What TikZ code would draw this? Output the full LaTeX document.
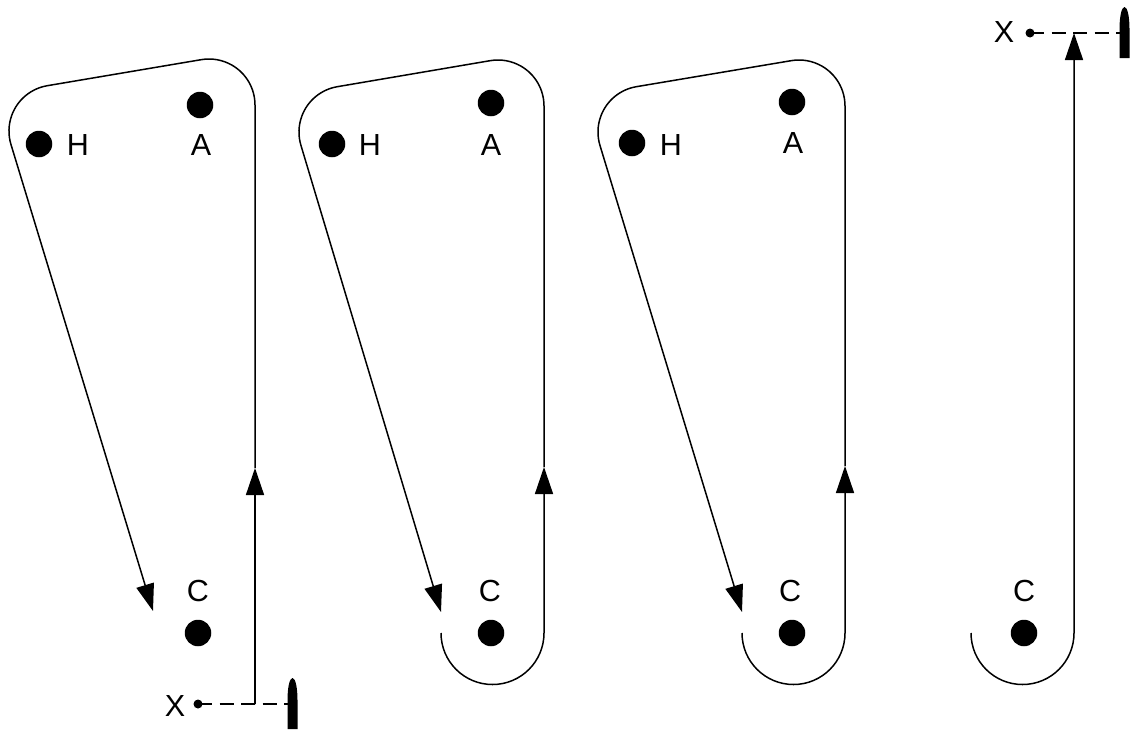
\documentclass[tikz,border=0pt]{standalone}
\usepackage{fontspec}
\setmainfont{Liberation Sans}
\usetikzlibrary{arrows.meta}
\tikzset{
  bigdot/.style={circle,fill=black,draw=none,inner sep=0pt,minimum size=26.5pt},
  smalldot/.style={circle,fill=black,draw=none,inner sep=0pt,minimum size=9pt},
  lab/.style={inner sep=0pt,font=\fontsize{30.5}{30.5}\selectfont},
  flow/.style={line width=1.5pt,black},
  flowtip/.style={flow,-{Triangle[length=27pt,width=18pt]}},
  aim/.style={line width=1.4pt,dash pattern=on 14pt off 7.5pt},
  pics/bullet/.style={code={
    \fill[black] (-5,-25) -- (-5,4) .. controls (-5,16) and (-3,26) .. (0,26)
      .. controls (3,26) and (5,16) .. (5,4) -- (5,-25) -- cycle;
  }}
}
\begin{document}
\begin{tikzpicture}[x=1pt,y=1pt]
\useasboundingbox (0,0) rectangle (1131,-731);
% Panel 1
\node[bigdot] (h1) at (39,-144) {};
\node[bigdot] (a1) at (200,-105) {};
\node[bigdot] (c1) at (198,-633) {};
\node[lab] (hl1) at (78,-145) {H};
\node[lab] (al1) at (201,-145) {A};
\node[lab] (cl1) at (198,-591) {C};
\node[lab] (xl1) at (175,-706) {X};
\node[smalldot] (x1) at (198,-704) {};
\coordinate (j1) at (255,-704);
\coordinate (m1) at (255,-468);
\coordinate (r1) at (255,-105);
\coordinate (t1) at (153,-611);
\coordinate (b1) at (292.5,-704);
\pic at (b1) {bullet};
\draw[aim] (x1.center) -- (j1) -- (b1);
\draw[flowtip] (j1) -- (m1);
\draw[flowtip] (m1) -- (r1) arc[start angle=0,end angle=99.6,radius=46pt]
  -- (47.3,-85.7) arc[start angle=99.6,end angle=197,radius=46pt] -- (t1);
% Panel 2
\node[bigdot] (h2) at (332,-144) {};
\node[bigdot] (a2) at (491,-103) {};
\node[bigdot] (c2) at (491,-633) {};
\node[lab] (hl2) at (370,-145) {H};
\node[lab] (al2) at (491,-145) {A};
\node[lab] (cl2) at (490,-591) {C};
\coordinate (s2) at (441,-633);
\coordinate (m2) at (544,-467);
\coordinate (r2) at (544,-106);
\coordinate (t2) at (441,-612);
\draw[flowtip] (s2) arc[start angle=180,end angle=360,radius=51.5pt] -- (m2);
\draw[flowtip] (m2) -- (r2) arc[start angle=0,end angle=99.6,radius=46pt]
  -- (337.3,-86.7) arc[start angle=99.6,end angle=197,radius=46pt] -- (t2);
% Panel 3
\node[bigdot] (h3) at (632,-143) {};
\node[bigdot] (a3) at (792,-102) {};
\node[bigdot] (c3) at (792,-633) {};
\node[lab] (hl3) at (671,-145) {H};
\node[lab] (al3) at (793,-143) {A};
\node[lab] (cl3) at (790,-591) {C};
\coordinate (s3) at (742,-633);
\coordinate (m3) at (845,-466);
\coordinate (r3) at (845,-106);
\coordinate (t3) at (742,-612);
\draw[flowtip] (s3) arc[start angle=180,end angle=360,radius=51.5pt] -- (m3);
\draw[flowtip] (m3) -- (r3) arc[start angle=0,end angle=99.6,radius=46pt]
  -- (636.3,-86.7) arc[start angle=99.6,end angle=197,radius=46pt] -- (t3);
% Panel 4
\node[bigdot] (c4) at (1024,-633) {};
\node[lab] (cl4) at (1024,-591) {C};
\node[lab] (xl4) at (1004,-32) {X};
\node[smalldot] (x4) at (1030,-33) {};
\coordinate (s4) at (971,-633);
\coordinate (t4) at (1074,-33);
\coordinate (b4) at (1124.5,-33);
\pic at (b4) {bullet};
\draw[aim] (x4.center) -- (t4) -- (b4);
\draw[flowtip] (s4) arc[start angle=180,end angle=360,radius=51.5pt] -- (t4);
\end{tikzpicture}
\end{document}
